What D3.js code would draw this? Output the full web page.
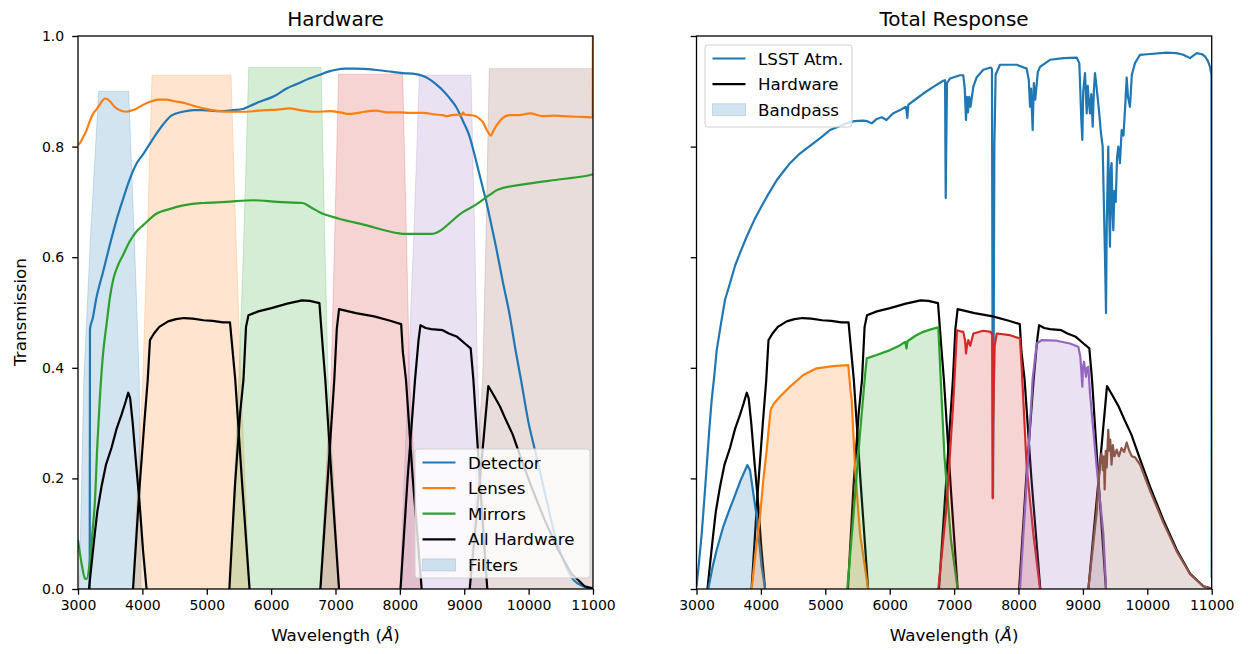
<!DOCTYPE html>
<html><head><meta charset="utf-8">
<script src="https://cdn.jsdelivr.net/npm/d3@7"></script>
<style>
body{margin:0;background:#fff}
svg{display:block}
text{font-family:"DejaVu Sans",sans-serif;fill:#000}
</style>
</head><body>
<svg id="chart" width="1248" height="654"></svg>
<script>
// ---- wavelength grid / tick labels ----
const xTicks = [3000, 4000, 5000, 6000, 7000, 8000, 9000, 10000, 11000];
const yTicks = [0, 0.2, 0.4, 0.6, 0.8, 1.0];
const bands = ["u", "g", "r", "i", "z", "y"];
const bandColors = ["#1f77b4", "#ff7f0e", "#2ca02c", "#d62728", "#9467bd", "#8c564b"];

// ---- component throughputs [wavelength (A), transmission] ----
const detector = [[3182,0],[3186,0.47],[3230,0.49],[3280,0.523],[3393,0.575],[3487,0.619],[3600,0.668],[3694,0.703],[3800,0.74],[3912,0.77],[4005,0.785],[4170,0.815],[4316,0.839],[4450,0.856],[4626,0.863],[4800,0.866],[4937,0.866],[5206,0.864],[5403,0.866],[5560,0.868],[5662,0.873],[5800,0.88],[6076,0.893],[6242,0.905],[6400,0.913],[6593,0.923],[6759,0.93],[6900,0.936],[7008,0.939],[7150,0.941],[7318,0.941],[7600,0.939],[7888,0.935],[8050,0.933],[8250,0.931],[8350,0.928],[8457,0.922],[8560,0.913],[8665,0.902],[8770,0.888],[8872,0.872],[8985,0.845],[9078,0.82],[9193,0.77],[9285,0.727],[9349,0.697],[9400,0.67],[9493,0.619],[9600,0.555],[9700,0.499],[9800,0.43],[9882,0.378],[10000,0.30],[10099,0.251],[10200,0.20],[10300,0.15],[10400,0.10],[10500,0.065],[10600,0.035],[10700,0.016],[10850,0.005],[10990,0.0]];

const lenses = [[3000,0.803],[3040,0.808],[3083,0.818],[3124,0.827],[3180,0.845],[3238,0.86],[3280,0.866],[3350,0.878],[3419,0.887],[3450,0.886],[3497,0.882],[3560,0.873],[3642,0.866],[3746,0.863],[3850,0.866],[3912,0.869],[4005,0.875],[4118,0.881],[4250,0.885],[4367,0.885],[4500,0.882],[4678,0.878],[4850,0.872],[5040,0.867],[5200,0.864],[5351,0.863],[5550,0.863],[5723,0.864],[5900,0.866],[6100,0.867],[6283,0.869],[6450,0.866],[6697,0.863],[6915,0.864],[7070,0.862],[7215,0.859],[7300,0.86],[7450,0.863],[7629,0.865],[7800,0.862],[8000,0.862],[8146,0.861],[8365,0.861],[8550,0.858],[8665,0.857],[8727,0.855],[8800,0.857],[8900,0.858],[8950,0.856],[8985,0.862],[9000,0.858],[9100,0.857],[9182,0.855],[9240,0.85],[9285,0.845],[9350,0.83],[9400,0.821],[9415,0.82],[9450,0.828],[9500,0.838],[9544,0.845],[9600,0.852],[9700,0.857],[9850,0.857],[10021,0.86],[10218,0.855],[10400,0.856],[10539,0.855],[10750,0.854],[10969,0.853],[10995,0.853],[11000,1.05]];

const mirrors = [[3000,0.089],[3050,0.05],[3109,0.019],[3135,0.018],[3186,0.052],[3230,0.11],[3264,0.161],[3300,0.26],[3342,0.35],[3393,0.43],[3445,0.48],[3497,0.528],[3548,0.56],[3620,0.585],[3704,0.605],[3800,0.628],[3912,0.647],[4005,0.657],[4223,0.679],[4419,0.687],[4533,0.691],[4750,0.696],[4947,0.698],[5300,0.700],[5723,0.703],[6100,0.70],[6490,0.698],[6620,0.69],[6759,0.681],[6956,0.673],[7070,0.669],[7433,0.659],[7991,0.643],[8054,0.642],[8484,0.642],[8985,0.682],[9182,0.695],[9400,0.713],[9519,0.722],[10000,0.733],[10500,0.741],[10969,0.749],[11000,0.75]];

// ---- filter curves (left panel, shaded) ----
const filterU = [[3020,0],[3090,0.378],[3200,0.65],[3321,0.90],[3787,0.90],[3870,0.65],[3952,0.378],[3980,0]];
const filterG = [[3850,0],[4005,0.378],[4080,0.65],[4150,0.929],[5377,0.929],[5450,0.65],[5530,0.378],[5665,0]];
const filterR = [[5351,0],[5500,0.378],[5580,0.65],[5652,0.943],[6776,0.943],[6830,0.65],[6886,0.378],[7060,0]];
const filterI = [[6760,0],[6930,0.378],[6990,0.65],[7048,0.931],[8043,0.931],[8100,0.65],[8150,0.378],[8330,0]];
const filterZ = [[8002,0],[8127,0.378],[8220,0.65],[8302,0.929],[9105,0.929],[9160,0.65],[9209,0.378],[9360,0]];
const filterY = [[9070,0],[9285,0.378],[9340,0.65],[9389,0.941],[11000,0.941],[11000,0]];

// ---- full hardware throughput per band ----
const hwU = [[3170,0],[3215,0.05],[3261,0.1],[3300,0.14],[3365,0.185],[3435,0.225],[3520,0.255],[3600,0.29],[3675,0.315],[3730,0.335],[3780,0.355],[3810,0.345],[3850,0.30],[3900,0.23],[3960,0.15],[4010,0.07],[4065,0]];
const hwG = [[3855,0],[3953,0.179],[4030,0.30],[4083,0.378],[4118,0.45],[4180,0.462],[4263,0.474],[4400,0.484],[4522,0.488],[4650,0.490],[4781,0.489],[4950,0.486],[5092,0.485],[5250,0.482],[5361,0.482],[5443,0.378],[5550,0.19],[5665,0]];
const hwR = [[5351,0],[5440,0.19],[5520,0.32],[5570,0.378],[5610,0.474],[5648,0.495],[5800,0.502],[6005,0.508],[6250,0.516],[6480,0.522],[6600,0.521],[6750,0.517],[6801,0.438],[6842,0.378],[6950,0.18],[7055,0]];
const hwI = [[6765,0],[6880,0.20],[6981,0.378],[7020,0.47],[7055,0.506],[7318,0.499],[7600,0.493],[7850,0.485],[8020,0.479],[8045,0.43],[8095,0.378],[8200,0.20],[8339,0]];
const hwZ = [[8010,0],[8120,0.20],[8235,0.378],[8290,0.45],[8320,0.477],[8400,0.472],[8489,0.47],[8665,0.468],[8760,0.462],[8890,0.456],[9010,0.444],[9100,0.435],[9142,0.378],[9240,0.20],[9358,0]];
const hwY = [[9085,0],[9245,0.20],[9374,0.367],[9460,0.35],[9555,0.33],[9650,0.305],[9750,0.28],[9887,0.235],[10042,0.185],[10249,0.125],[10457,0.071],[10663,0.028],[10870,0.005],[11000,0.001]];

// ---- atmosphere transmission ----
const atmosphere = [[3000,0.004],[3040,0.05],[3081,0.10],[3120,0.16],[3158,0.221],[3200,0.29],[3236,0.342],[3280,0.39],[3314,0.432],[3380,0.48],[3443,0.523],[3520,0.553],[3600,0.585],[3690,0.612],[3779,0.637],[3900,0.668],[4000,0.69],[4090,0.709],[4250,0.74],[4350,0.755],[4452,0.77],[4600,0.787],[4700,0.796],[4814,0.806],[4950,0.818],[5073,0.83],[5200,0.836],[5332,0.842],[5450,0.846],[5590,0.847],[5650,0.846],[5720,0.842],[5800,0.85],[5876,0.853],[5950,0.848],[6050,0.86],[6160,0.866],[6250,0.872],[6265,0.862],[6273,0.852],[6290,0.876],[6419,0.887],[6522,0.896],[6677,0.908],[6832,0.919],[6860,0.92],[6866,0.78],[6870,0.707],[6878,0.80],[6890,0.915],[6936,0.923],[7091,0.929],[7143,0.929],[7165,0.905],[7185,0.848],[7198,0.89],[7215,0.862],[7235,0.89],[7255,0.872],[7298,0.908],[7350,0.925],[7453,0.939],[7568,0.943],[7588,0.94],[7597,0.45],[7604,0.166],[7612,0.35],[7625,0.80],[7645,0.93],[7712,0.948],[7972,0.948],[8127,0.941],[8160,0.92],[8179,0.872],[8195,0.905],[8220,0.83],[8238,0.915],[8260,0.885],[8300,0.935],[8334,0.944],[8489,0.957],[8700,0.96],[8904,0.961],[8944,0.951],[8960,0.90],[8975,0.85],[8991,0.812],[9005,0.90],[9033,0.933],[9059,0.86],[9075,0.91],[9090,0.885],[9110,0.86],[9130,0.895],[9152,0.836],[9170,0.90],[9188,0.933],[9210,0.91],[9250,0.865],[9280,0.825],[9307,0.80],[9325,0.70],[9343,0.601],[9359,0.499],[9370,0.66],[9394,0.80],[9408,0.68],[9420,0.619],[9435,0.76],[9446,0.77],[9460,0.68],[9472,0.649],[9490,0.72],[9510,0.70],[9530,0.78],[9550,0.80],[9575,0.77],[9602,0.83],[9630,0.82],[9660,0.88],[9680,0.925],[9700,0.89],[9731,0.872],[9760,0.93],[9809,0.951],[9887,0.966],[10000,0.967],[10300,0.97],[10450,0.969],[10559,0.966],[10663,0.96],[10767,0.969],[10850,0.967],[10896,0.963],[10940,0.955],[10974,0.944],[10996,0.93],[11000,0.02]];

// ---- total system response per band ----
const totU = [[3183,0],[3250,0.04],[3314,0.071],[3416,0.113],[3500,0.14],[3571,0.161],[3680,0.195],[3789,0.224],[3831,0.215],[3880,0.175],[3935,0.131],[4012,0.04],[4065,0]];
const totG = [[3857,0],[3920,0.07],[3986,0.131],[4040,0.20],[4090,0.251],[4130,0.30],[4152,0.324],[4200,0.335],[4297,0.348],[4452,0.366],[4658,0.387],[4866,0.399],[5124,0.403],[5357,0.405],[5390,0.36],[5410,0.342],[5461,0.221],[5539,0.10],[5665,0]];
const totR = [[5342,0],[5435,0.131],[5539,0.282],[5620,0.39],[5643,0.417],[5798,0.423],[6005,0.432],[6150,0.44],[6240,0.447],[6262,0.435],[6275,0.448],[6400,0.458],[6522,0.465],[6650,0.47],[6755,0.473],[6800,0.36],[6850,0.24],[6950,0.09],[7055,0]];
const totI = [[6755,0],[6884,0.15],[6988,0.34],[7045,0.468],[7100,0.466],[7143,0.465],[7170,0.45],[7185,0.426],[7200,0.44],[7220,0.45],[7250,0.44],[7300,0.462],[7453,0.467],[7568,0.465],[7592,0.46],[7599,0.164],[7606,0.30],[7630,0.44],[7662,0.462],[7868,0.459],[8023,0.453],[8050,0.40],[8127,0.221],[8230,0.10],[8334,0]];
const totZ = [[8023,0],[8130,0.2],[8220,0.38],[8283,0.444],[8360,0.45],[8593,0.449],[8800,0.444],[8929,0.438],[8960,0.42],[8971,0.402],[8991,0.366],[9000,0.40],[9017,0.411],[9048,0.384],[9065,0.40],[9084,0.402],[9110,0.354],[9214,0.221],[9317,0.10],[9360,0]];
const totY = [[9084,0],[9150,0.07],[9214,0.14],[9260,0.22],[9290,0.245],[9310,0.215],[9325,0.24],[9338,0.18],[9355,0.25],[9370,0.22],[9394,0.288],[9410,0.25],[9425,0.27],[9445,0.225],[9465,0.26],[9490,0.24],[9525,0.252],[9560,0.24],[9600,0.255],[9640,0.248],[9680,0.265],[9720,0.25],[9760,0.24],[9810,0.238],[9887,0.225],[10042,0.178],[10249,0.12],[10457,0.068],[10663,0.027],[10870,0.005],[11000,0.001]];

const filters = [filterU, filterG, filterR, filterI, filterZ, filterY];
const hardware = [hwU, hwG, hwR, hwI, hwZ, hwY];
const totals = [totU, totG, totR, totI, totZ, totY];

// ---- layout ----
const svg = d3.select("#chart");
const plotTop = 36, plotBottom = 589;
const y = d3.scaleLinear().domain([0, 1]).range([plotBottom, plotTop]);
const xL = d3.scaleLinear().domain([3000, 11000]).range([78, 593]);
const xR = d3.scaleLinear().domain([3000, 11000]).range([696.5, 1211.7]);
const TICK = 14, LABEL = 16.7, TITLE = 20, LEG = 16.7, LW = 2.2, SPINE = 1.3;

function setupPanel(x, id, title, showYLabels) {
  const defs = svg.append("defs");
  defs.append("clipPath").attr("id", id).append("rect")
    .attr("x", x.range()[0]).attr("y", plotTop)
    .attr("width", x.range()[1] - x.range()[0]).attr("height", plotBottom - plotTop);
  const plot = svg.append("g").attr("clip-path", `url(#${id})`);

  const xa = svg.append("g").attr("transform", `translate(0,${plotBottom})`)
    .call(d3.axisBottom(x).tickValues(xTicks).tickFormat(d3.format("d")).tickSize(5.8).tickPadding(5.5));
  const ya = svg.append("g").attr("transform", `translate(${x.range()[0]},0)`)
    .call(d3.axisLeft(y).tickValues(yTicks).tickFormat(showYLabels ? d3.format(".1f") : () => "").tickSize(5.8).tickPadding(8));
  [xa, ya].forEach(a => {
    a.select(".domain").remove();
    a.selectAll(".tick line").attr("stroke", "#000").attr("stroke-width", SPINE);
    a.selectAll(".tick text").attr("font-size", TICK).attr("font-family", "DejaVu Sans").attr("fill", "#000");
  });

  const cx = (x.range()[0] + x.range()[1]) / 2;
  svg.append("text").attr("x", cx).attr("y", 26).attr("text-anchor", "middle")
    .attr("font-size", TITLE).text(title);
  const xl = svg.append("text").attr("x", cx).attr("y", 641).attr("text-anchor", "middle")
    .attr("font-size", LABEL);
  xl.append("tspan").text("Wavelength (");
  xl.append("tspan").attr("font-style", "italic").text("Å");
  xl.append("tspan").text(")");
  return plot;
}

function frame(x) {
  svg.append("rect").attr("x", x.range()[0]).attr("y", plotTop)
    .attr("width", x.range()[1] - x.range()[0]).attr("height", plotBottom - plotTop)
    .attr("fill", "none").attr("stroke", "#000").attr("stroke-width", SPINE);
}

function legend(x0, y0, w, h, entries) {
  const g = svg.append("g");
  g.append("rect").attr("x", x0).attr("y", y0).attr("width", w).attr("height", h)
    .attr("rx", 3).attr("fill", "#fff").attr("fill-opacity", 0.8)
    .attr("stroke", "#d0d0d0").attr("stroke-width", 1);
  entries.forEach((e, i) => {
    const cy = y0 + 13.5 + i * 25.6;
    if (e.patch) {
      g.append("rect").attr("x", x0 + 7.5).attr("y", cy - 6).attr("width", 33).attr("height", 12)
        .attr("fill", e.color).attr("fill-opacity", 0.2)
        .attr("stroke", e.color).attr("stroke-opacity", 0.2);
    } else {
      g.append("line").attr("x1", x0 + 7.5).attr("x2", x0 + 40.5).attr("y1", cy).attr("y2", cy)
        .attr("stroke", e.color).attr("stroke-width", LW);
    }
    g.append("text").attr("x", x0 + 53).attr("y", cy + 6).attr("font-size", LEG).text(e.label);
  });
}

// ===== Left panel: hardware components =====
const pL = setupPanel(xL, "clipL", "Hardware", true);
const lineL = d3.line().x(d => xL(d[0])).y(d => y(d[1]));
const smoothL = d3.line().x(d => xL(d[0])).y(d => y(d[1])).curve(d3.curveMonotoneX);

filters.forEach((f, i) => {
  pL.append("path").datum(f).attr("d", d3.area().x(d => xL(d[0])).y0(y(0)).y1(d => y(d[1])))
    .attr("fill", bandColors[i]).attr("fill-opacity", 0.2)
    .attr("stroke", bandColors[i]).attr("stroke-opacity", 0.2).attr("stroke-width", 1);
});
pL.append("path").datum(detector).attr("d", smoothL).attr("fill", "none").attr("stroke", bandColors[0]).attr("stroke-width", LW);
pL.append("path").datum(lenses).attr("d", smoothL).attr("fill", "none").attr("stroke", bandColors[1]).attr("stroke-width", LW);
pL.append("path").datum(mirrors).attr("d", smoothL).attr("fill", "none").attr("stroke", bandColors[2]).attr("stroke-width", LW);
hardware.forEach(h => {
  pL.append("path").datum(h).attr("d", lineL).attr("fill", "none").attr("stroke", "#000")
    .attr("stroke-width", LW).attr("stroke-linejoin", "round");
});
frame(xL);

svg.append("text").attr("transform", "translate(26,312) rotate(-90)").attr("text-anchor", "middle")
  .attr("font-size", LABEL).text("Transmission");

legend(415, 449, 175, 129, [
  {label: "Detector", color: bandColors[0]},
  {label: "Lenses", color: bandColors[1]},
  {label: "Mirrors", color: bandColors[2]},
  {label: "All Hardware", color: "#000"},
  {label: "Filters", color: bandColors[0], patch: true}
]);

// ===== Right panel: total response =====
const pR = setupPanel(xR, "clipR", "Total Response", false);
const lineR = d3.line().x(d => xR(d[0])).y(d => y(d[1]));

pR.append("path").datum(atmosphere).attr("d", lineR).attr("fill", "none")
  .attr("stroke", bandColors[0]).attr("stroke-width", LW).attr("stroke-linejoin", "round");
hardware.forEach(h => {
  pR.append("path").datum(h).attr("d", lineR).attr("fill", "none").attr("stroke", "#000")
    .attr("stroke-width", LW).attr("stroke-linejoin", "round");
});
totals.forEach((t, i) => {
  pR.append("path").datum(t).attr("d", d3.area().x(d => xR(d[0])).y0(y(0)).y1(d => y(d[1])))
    .attr("fill", bandColors[i]).attr("fill-opacity", 0.2);
  pR.append("path").datum(t).attr("d", lineR).attr("fill", "none")
    .attr("stroke", bandColors[i]).attr("stroke-width", LW).attr("stroke-linejoin", "round");
});
frame(xR);

legend(705, 45, 147, 82, [
  {label: "LSST Atm.", color: bandColors[0]},
  {label: "Hardware", color: "#000"},
  {label: "Bandpass", color: bandColors[0], patch: true}
]);
</script>
</body></html>
